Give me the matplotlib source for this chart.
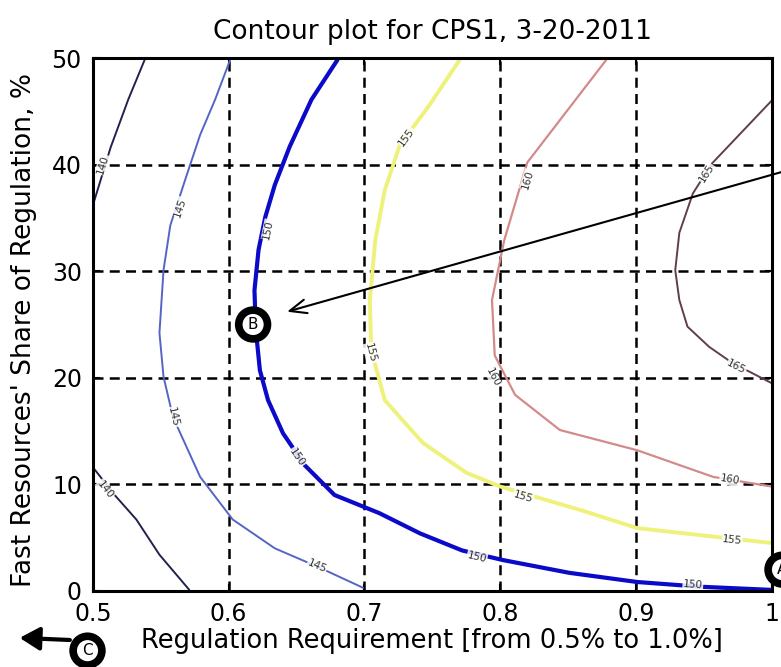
import numpy as np
import matplotlib
matplotlib.use("Agg")
import matplotlib.pyplot as plt

plt.rcParams['font.family'] = ['DejaVu Sans']

# contour lines (x = requirement, y = fast share %)
c140_top_x = [0.538, 0.526, 0.513, 0.500]
c140_top_y = [49.8, 46.1, 41.6, 36.2]
c140_bot_x = [0.500, 0.516, 0.532, 0.549, 0.571]
c140_bot_y = [11.6, 9.0, 6.7, 3.4, 0.1]

c145_x = [0.601, 0.590, 0.579, 0.568, 0.557, 0.552, 0.549, 0.552, 0.559,
          0.579, 0.603, 0.634, 0.665, 0.699]
c145_y = [49.8, 46.1, 42.8, 38.6, 34.3, 30.1, 24.2, 20.1, 16.3,
          10.7, 6.7, 4.0, 2.3, 0.3]

c150_x = [0.680, 0.661, 0.645, 0.634, 0.627, 0.622, 0.619, 0.620, 0.623,
          0.629, 0.640, 0.656, 0.678, 0.711, 0.741, 0.772, 0.802, 0.851,
          0.901, 0.947, 1.000]
c150_y = [49.8, 46.1, 41.7, 38.1, 35.1, 32.0, 28.2, 24.5, 20.7,
          17.9, 14.8, 11.8, 9.0, 7.3, 5.4, 3.8, 2.9, 1.7,
          0.84, 0.4, 0.1]

c155_x = [0.770, 0.748, 0.726, 0.715, 0.708, 0.704, 0.705, 0.715, 0.743,
          0.775, 0.800, 0.859, 0.901, 0.957, 1.000]
c155_y = [49.8, 45.6, 41.8, 37.6, 32.9, 27.3, 22.6, 17.9, 13.9,
          11.1, 9.8, 7.6, 5.9, 5.1, 4.5]

c160_x = [0.878, 0.820, 0.803, 0.794, 0.796, 0.811, 0.844, 0.901, 0.957, 1.000]
c160_y = [49.8, 40.2, 32.9, 27.3, 22.1, 18.4, 15.1, 13.2, 10.7, 9.8]

c165_x = [1.000, 0.956, 0.942, 0.932, 0.929, 0.932, 0.938, 0.954, 0.971, 1.000]
c165_y = [46.0, 40.1, 37.3, 33.6, 30.1, 27.3, 24.8, 22.9, 21.4, 19.5]

# where the level numbers sit on each line
lab140 = [(0.507, 40.0), (0.509, 9.5)]
lab145 = [(0.564, 36.0), (0.559, 16.3), (0.665, 2.3)]
lab150 = [(0.629, 33.9), (0.650, 12.5), (0.783, 3.2), (0.942, 0.6)]
lab155 = [(0.731, 42.6), (0.704, 22.3), (0.817, 8.8), (0.971, 4.8)]
lab160 = [(0.820, 38.6), (0.795, 20.0), (0.969, 10.4)]
lab165 = [(0.952, 39.2), (0.974, 21.0)]

xticks = [0.5, 0.6, 0.7, 0.8, 0.9, 1.0]
xticklabels = ['0.5', '0.6', '0.7', '0.8', '0.9', '1']
yticks = [0, 10, 20, 30, 40, 50]

fig = plt.figure(figsize=(7.81, 6.67), dpi=100)
ax = fig.add_axes([0.119, 0.114, 0.869, 0.799])
ax.set_xlim(0.5, 1.0)
ax.set_ylim(0, 50)


def label_angle(xs, ys, px, py):
    pts = ax.transData.transform(np.column_stack([xs, ys]))
    p = ax.transData.transform((px, py))
    mids = (pts[1:] + pts[:-1]) / 2
    i = np.argmin(np.hypot(*(mids - p).T))
    dx, dy = pts[i + 1] - pts[i]
    ang = np.degrees(np.arctan2(dy, dx))
    if ang > 90:
        ang -= 180
    if ang < -90:
        ang += 180
    return ang


lines = [
    (140, [(c140_top_x, c140_top_y), (c140_bot_x, c140_bot_y)], '#22224e', 1.4, lab140),
    (145, [(c145_x, c145_y)], '#5565c5', 1.4, lab145),
    (150, [(c150_x, c150_y)], '#0a0ac8', 3.0, lab150),
    (155, [(c155_x, c155_y)], '#eef27a', 2.8, lab155),
    (160, [(c160_x, c160_y)], '#d48a8a', 1.6, lab160),
    (165, [(c165_x, c165_y)], '#5e3e50', 1.4, lab165),
]

for lev, parts, col, lw, labs in lines:
    for xs, ys in parts:
        ax.plot(xs, ys, color=col, lw=lw, zorder=3, solid_capstyle='round')
    for lx, ly in labs:
        best = min(parts, key=lambda pr: np.min(np.hypot(np.array(pr[0]) - lx,
                                                           (np.array(pr[1]) - ly) / 100)))
        ang = label_angle(best[0], best[1], lx, ly)
        ax.text(lx, ly, str(lev), fontsize=7.5, color='#333333', rotation=ang,
                ha='center', va='center', rotation_mode='anchor', zorder=4,
                bbox=dict(boxstyle='square,pad=0.05', fc='white', ec='none', alpha=0.85))

ax.set_xticks(xticks)
ax.set_xticklabels(xticklabels)
ax.set_yticks(yticks)
ax.tick_params(direction='in', length=5, width=1.5, labelsize=17, pad=8,
               top=True, right=True)
ax.grid(True, color='black', lw=1.8, linestyle=(0, (4, 2.5)))
ax.set_axisbelow(False)
for s in ax.spines.values():
    s.set_linewidth(2.2)
    s.set_zorder(6)

ax.set_title('Contour plot for CPS1, 3-20-2011', fontsize=19, pad=14)
ax.set_xlabel('Regulation Requirement [from 0.5% to 1.0%]', fontsize=18.5)
ax.set_ylabel("Fast Resources' Share of Regulation, %", fontsize=19)
ax.xaxis.set_label_coords(0.5, -0.07)
ax.yaxis.set_label_coords(-0.083, 0.49)

# marked points
ring = dict(boxstyle='circle,pad=0.45', fc='white', ec='black', lw=5.5)
ax.text(0.618, 25.0, 'B', fontsize=11, ha='center', va='center', bbox=ring,
        zorder=7, clip_on=False)
ax.text(1.008, 2.0, 'A', fontsize=11, ha='center', va='center', bbox=ring,
        zorder=7, clip_on=False)
ax.text(0.496, -5.6, 'C', fontsize=11, ha='center', va='center', bbox=ring,
        zorder=7, clip_on=False)

ax.annotate('', xy=(0.643, 26.2), xytext=(1.01, 39.4),
            arrowprops=dict(arrowstyle='->,head_length=0.6,head_width=0.25',
                            lw=1.5, color='black', mutation_scale=20,
                            shrinkA=0, shrinkB=0),
            annotation_clip=False, zorder=8)
ax.annotate('', xy=(0.446, -4.4), xytext=(0.483, -4.6),
            arrowprops=dict(arrowstyle='-|>,head_length=0.6,head_width=0.35',
                            lw=3, color='black', mutation_scale=20,
                            shrinkA=0, shrinkB=0),
            annotation_clip=False, zorder=8)

fig.savefig('out.png', dpi=100)
